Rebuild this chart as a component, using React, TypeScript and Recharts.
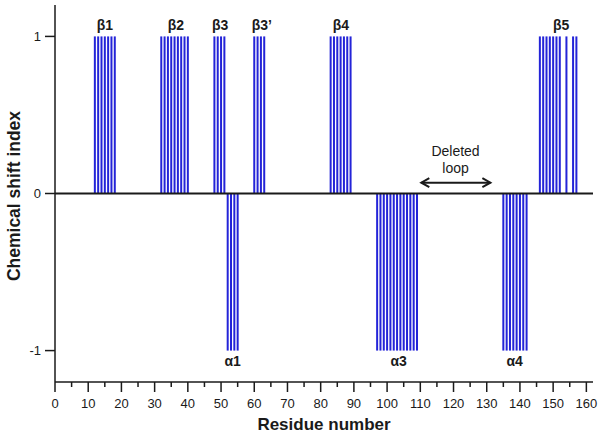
import { ComposedChart, Bar, Scatter, XAxis, YAxis, ReferenceLine, Label } from "recharts";

// residues with CSI = +1 (strands) and -1 (helices)
const strandResidues = [
  12, 13, 14, 15, 16, 17, 18,
  32, 33, 34, 35, 36, 37, 38, 39, 40,
  48, 49, 50, 51,
  60, 61, 62, 63,
  83, 84, 85, 86, 87, 88, 89,
  146, 147, 148, 149, 150, 151, 152, 154, 156, 157,
];
const helixResidues = [
  52, 53, 54, 55,
  97, 98, 99, 100, 101, 102, 103, 104, 105, 106, 107, 108, 109,
  135, 136, 137, 138, 139, 140, 141, 142,
];

const labelText = ["β1", "β2", "β3", "β3’", "β4", "β5", "α1", "α3", "α4"];
const labelResidue = [15, 36.4, 49.7, 62.3, 86.1, 152.4, 53.5, 103.5, 138.4];
const labelValue = [1.04, 1.04, 1.04, 1.04, 1.04, 1.04, -1.1, -1.1, -1.1];

const loopText = ["Deleted", "loop"];
const loopTextResidue = [120.6, 120.6];
const loopTextValue = [0.236, 0.13];
const loopArrow = [110.3, 131.1];
const loopArrowValue = 0.069;

const xTicks = [
  0, 5, 10, 15, 20, 25, 30, 35, 40, 45, 50, 55, 60, 65, 70, 75, 80, 85, 90, 95,
  100, 105, 110, 115, 120, 125, 130, 135, 140, 145, 150, 155, 160,
];
const yTicks = [-1, 0, 1];

const FONT = "'Liberation Sans', Arial, Helvetica, sans-serif";
const BLUE = "#2424d8";
const INK = "#1a1a1a";

const barData = [
  ...strandResidues.map((r) => ({ residue: r, csi: 1 })),
  ...helixResidues.map((r) => ({ residue: r, csi: -1 })),
].sort((a, b) => a.residue - b.residue);

const textData = [
  ...labelText.map((t, i) => ({ residue: labelResidue[i], pos: labelValue[i], text: t, bold: true, size: 14 })),
  ...loopText.map((t, i) => ({ residue: loopTextResidue[i], pos: loopTextValue[i], text: t, bold: false, size: 14 })),
];

const XTick = (props: any) => {
  const { x, y, payload } = props;
  const major = payload.value % 10 === 0;
  return (
    <g>
      <line x1={x} x2={x} y1={y} y2={y + (major ? 10 : 5)} stroke={INK} strokeWidth={1.5} />
      {major && (
        <text x={x} y={y + 26} textAnchor="middle" fontSize={13} fill={INK} fontFamily={FONT}>
          {payload.value}
        </text>
      )}
    </g>
  );
};

// thin stick of fixed width, centred on the residue
const StickShape = (props: any) => {
  const { x, y, width, height } = props;
  const top = Math.min(y, y + height);
  const h = Math.abs(height);
  return <rect x={x + width / 2 - 1} y={top} width={2} height={h} fill={BLUE} />;
};

const TextShape = (props: any) => {
  const { cx, cy, payload } = props;
  return (
    <text
      x={cx}
      y={cy}
      textAnchor="middle"
      fontSize={payload.size}
      fontWeight={payload.bold ? "bold" : "normal"}
      fill={INK}
      fontFamily={FONT}
    >
      {payload.text}
    </text>
  );
};

const ArrowShape = (props: any) => {
  const { x1, y1, x2, y2 } = props;
  return (
    <g stroke={INK} strokeWidth={2} fill="none">
      <line x1={x1} y1={y1} x2={x2} y2={y2} />
      <polyline points={`${x1 + 8},${y1 - 4.5} ${x1},${y1} ${x1 + 8},${y1 + 4.5}`} />
      <polyline points={`${x2 - 8},${y2 - 4.5} ${x2},${y2} ${x2 - 8},${y2 + 4.5}`} />
    </g>
  );
};

export default function App() {
  return (
    <div style={{ position: "absolute", left: 0, top: 0, background: "#fff" }}>
      <ComposedChart
        width={604}
        height={437}
        data={barData}
        margin={{ top: 5, right: 11, left: 0, bottom: 0 }}
        style={{ fontFamily: FONT }}
      >
        <XAxis
          dataKey="residue"
          type="number"
          domain={[0, 162]}
          ticks={xTicks}
          interval={0}
          tick={<XTick />}
          tickLine={false}
          tickSize={0}
          tickMargin={0}
          axisLine={{ stroke: INK, strokeWidth: 1.5 }}
          height={55}
          allowDataOverflow
        >
          <Label
            content={() => (
              <text x={324} y={430} textAnchor="middle" fontSize={17} fontWeight="bold" fill={INK} fontFamily={FONT}>
                Residue number
              </text>
            )}
          />
        </XAxis>
        <YAxis
          type="number"
          domain={[-1.2, 1.2]}
          ticks={yTicks}
          interval={0}
          width={55}
          tickSize={10}
          tickMargin={4}
          tick={{ fontSize: 13, fill: INK, fontFamily: FONT }}
          tickLine={{ stroke: INK, strokeWidth: 1.5 }}
          axisLine={{ stroke: INK, strokeWidth: 1.5 }}
          allowDataOverflow
        >
          <Label
            content={() => (
              <text
                x={14}
                y={196}
                transform="rotate(-90 14 196)"
                textAnchor="middle"
                dominantBaseline="central"
                fontSize={17.5}
                fontWeight="bold"
                fill={INK}
                fontFamily={FONT}
              >
                Chemical shift index
              </text>
            )}
          />
        </YAxis>
        <Bar dataKey="csi" fill={BLUE} shape={<StickShape />} isAnimationActive={false} />
        <ReferenceLine y={0} stroke={INK} strokeWidth={2} />
        <ReferenceLine
          segment={[
            { x: loopArrow[0], y: loopArrowValue },
            { x: loopArrow[1], y: loopArrowValue },
          ]}
          shape={<ArrowShape />}
        />
        <Scatter data={textData} dataKey="pos" shape={<TextShape />} isAnimationActive={false} />
      </ComposedChart>
    </div>
  );
}
